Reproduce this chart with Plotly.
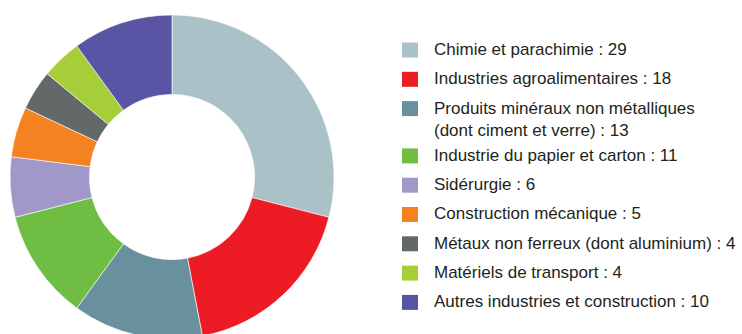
import plotly.graph_objects as go

# Industrial sectors and their shares
labels = [
    "Chimie et parachimie",
    "Industries agroalimentaires",
    "Produits minéraux non métalliques<br>(dont ciment et verre)",
    "Industrie du papier et carton",
    "Sidérurgie",
    "Construction mécanique",
    "Métaux non ferreux (dont aluminium)",
    "Matériels de transport",
    "Autres industries et construction",
]
values = [29, 18, 13, 11, 6, 5, 4, 4, 10]
colors = [
    "#a9c1c7", "#ed1c24", "#68909d", "#70bd44", "#9f98c8",
    "#f58220", "#636969", "#a6ce39", "#5954a4",
]

# Canvas is a little taller than the visible frame so the ring runs off the bottom edge
W, H = 742, 342
FONT = "Liberation Sans, Arial, Helvetica, sans-serif"
TEXT_COLOR = "#231f20"

fig = go.Figure()

# Donut: radius 162 px centred at (172, 177)
cx, cy, r = 172, 177, 162
fig.add_trace(go.Pie(
    labels=[l.replace("<br>", " ") for l in labels],
    values=values,
    marker=dict(colors=colors, line=dict(color="white", width=0.6)),
    hole=0.51,
    sort=False,
    direction="clockwise",
    rotation=0,
    textinfo="none",
    hoverinfo="label+value",
    showlegend=False,
    domain=dict(x=[(cx - r) / W, (cx + r) / W],
                y=[max(0, 1 - (cy + r) / H), 1 - (cy - r) / H]),
))

# Hand-built legend: colour squares with "label : value" text
shapes, annotations = [], []
row_top = 50
row_step = 29.3
extra_line = 18
extra = 0
sq_x0, sq_w, sq_h = 402, 16, 15
text_x = 432
for lab, val, col in zip(labels, values, colors):
    yc = row_top + len(annotations) * row_step + extra
    shapes.append(dict(
        type="rect", xref="paper", yref="paper",
        x0=sq_x0 / W, x1=(sq_x0 + sq_w) / W,
        y0=1 - (yc + sq_h / 2) / H, y1=1 - (yc - sq_h / 2) / H,
        fillcolor=col, line=dict(width=0),
    ))
    annotations.append(dict(
        xref="paper", yref="paper",
        x=text_x / W, y=1 - (yc - 12) / H,
        xanchor="left", yanchor="top", align="left",
        text=f"{lab} : {val}", showarrow=False,
        font=dict(family=FONT, size=17, color=TEXT_COLOR),
    ))
    extra += extra_line * lab.count("<br>")

fig.update_layout(
    width=W, height=H,
    margin=dict(l=0, r=0, t=0, b=0),
    paper_bgcolor="white",
    plot_bgcolor="white",
    shapes=shapes,
    annotations=annotations,
)

fig.write_html("out.html")
